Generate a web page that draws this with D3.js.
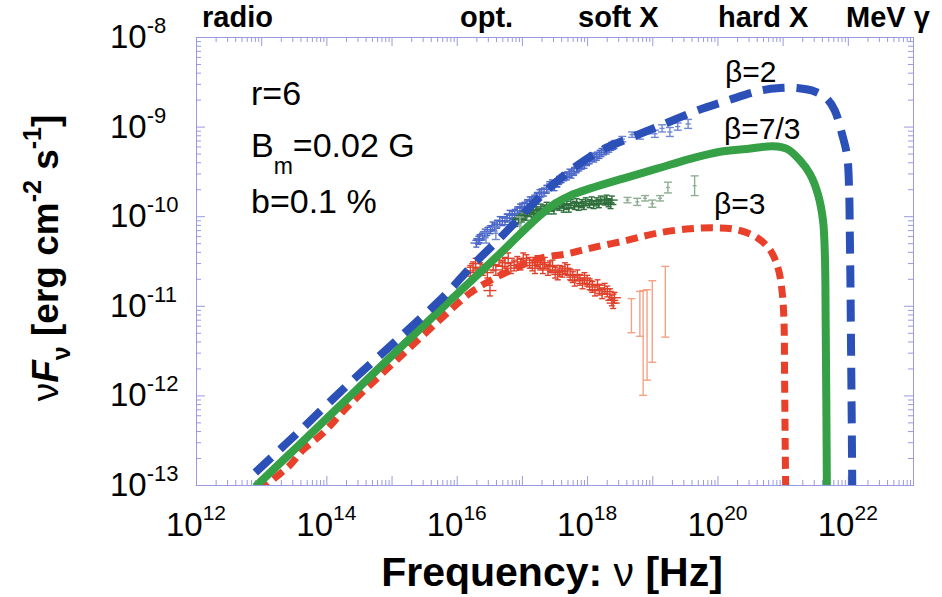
<!DOCTYPE html>
<html>
<head>
<meta charset="utf-8">
<title>SED model</title>
<script src="https://cdn.jsdelivr.net/npm/d3@7/dist/d3.min.js"></script>
<style>
  body { margin: 0; background: #fff; }
  svg { display: block; font-family: "Liberation Sans", Arial, Helvetica, sans-serif; }
</style>
</head>
<body>
<svg id="sed" width="942" height="597"></svg>
<script>
// model spectra: log10(nu [Hz]) and log10(nuFnu [erg cm^-2 s^-1])
var beta2Nu = [12.91, 13.60, 14.36, 15.13, 15.85, 16.20, 16.63, 17.12, 17.43, 17.78, 18.20, 18.61, 19.12, 19.69, 20.15, 20.65, 20.96, 21.22, 21.50, 21.68, 21.80, 21.91, 21.99, 22.02, 22.03, 22.04, 22.05, 22.06, 22.07];
var beta2F  = [-12.86, -12.39, -11.86, -11.35, -10.86, -10.58, -10.27, -9.90, -9.68, -9.47, -9.27, -9.14, -8.99, -8.82, -8.71, -8.60, -8.57, -8.57, -8.61, -8.69, -8.82, -9.08, -9.33, -9.71, -10.16, -10.72, -11.50, -12.28, -13.20];

var beta73Nu = [12.91, 13.60, 14.36, 15.13, 15.90, 16.66, 16.97, 17.28, 17.51, 17.74, 18.05, 18.55, 19.07, 19.58, 20.04, 20.45, 20.85, 21.07, 21.27, 21.42, 21.54, 21.62, 21.65, 21.66, 21.67, 21.68];
var beta73F  = [-13.02, -12.54, -12.01, -11.47, -10.94, -10.42, -10.20, -9.99, -9.86, -9.77, -9.69, -9.58, -9.47, -9.36, -9.28, -9.25, -9.22, -9.25, -9.38, -9.53, -9.75, -10.05, -10.49, -11.16, -12.05, -13.20];

var beta3Nu = [12.98, 13.18, 13.44, 13.64, 13.95, 14.32, 15.13, 15.90, 16.20, 16.51, 16.93, 17.28, 17.69, 18.09, 18.61, 19.07, 19.58, 19.99, 20.30, 20.61, 20.81, 20.93, 20.99, 21.02, 21.03, 21.04, 21.05];
var beta3F  = [-13.08, -12.94, -12.78, -12.61, -12.42, -12.13, -11.57, -11.05, -10.86, -10.72, -10.57, -10.47, -10.42, -10.35, -10.27, -10.19, -10.14, -10.13, -10.15, -10.24, -10.38, -10.58, -10.83, -11.16, -11.83, -12.61, -13.20];

// observed points: [log nu, log nuFnu]
var blueBand = [[16.30,-10.30],[16.33,-10.27],[16.35,-10.25],[16.40,-10.22],[16.43,-10.19],[16.47,-10.17],[16.52,-10.15],[16.55,-10.11],[16.58,-10.12],[16.62,-10.09],[16.66,-10.05],[16.70,-10.06],[16.74,-10.05],[16.77,-10.02],[16.81,-9.98],[16.85,-9.99],[16.89,-9.97],[16.93,-9.94],[16.97,-9.91],[17.00,-9.90],[17.04,-9.89],[17.08,-9.86],[17.12,-9.83],[17.15,-9.83],[17.19,-9.81],[17.23,-9.78],[17.27,-9.75],[17.30,-9.74],[17.34,-9.73],[17.38,-9.70],[17.42,-9.66],[17.46,-9.64],[17.50,-9.67],[17.54,-9.63],[17.57,-9.60],[17.61,-9.58],[17.65,-9.56],[17.69,-9.55],[17.73,-9.52],[17.76,-9.53],[17.80,-9.50],[17.84,-9.47],[17.88,-9.45],[17.92,-9.43],[17.96,-9.42],[18.00,-9.39],[18.04,-9.37],[18.07,-9.34],[18.11,-9.35],[18.15,-9.33],[18.19,-9.31],[18.22,-9.29],[18.26,-9.27],[18.30,-9.26],[18.34,-9.24],[18.37,-9.22],[18.40,-9.21],[18.42,-9.20]];
// [log nu, log nuFnu, error in dex]
var blueSparse = [[16.45,-10.24,0.06],[16.60,-10.19,0.07],[18.54,-9.14,0.03],[18.69,-9.09,0.03],[18.81,-9.10,0.04],[18.94,-9.05,0.03],[19.04,-9.08,0.04],[19.15,-9.02,0.04],[19.27,-9.06,0.05],[19.39,-9.00,0.04],[19.55,-8.97,0.05]];

var greenBand = [[16.90,-10.07],[16.95,-10.04],[17.00,-10.02],[17.03,-9.99],[17.06,-10.00],[17.12,-9.96],[17.15,-9.94],[17.18,-9.97],[17.23,-9.94],[17.26,-9.97],[17.29,-9.91],[17.35,-9.92],[17.38,-9.89],[17.41,-9.93],[17.46,-9.90],[17.49,-9.93],[17.52,-9.87],[17.58,-9.89],[17.61,-9.86],[17.64,-9.91],[17.69,-9.88],[17.72,-9.91],[17.75,-9.86],[17.81,-9.88],[17.84,-9.85],[17.87,-9.89],[17.92,-9.86],[17.95,-9.88],[17.98,-9.84],[18.04,-9.86],[18.07,-9.83],[18.10,-9.87],[18.15,-9.84],[18.18,-9.86],[18.21,-9.82],[18.27,-9.83],[18.30,-9.81],[18.33,-9.85],[18.36,-9.87],[18.38,-9.82]];
var greenSparse = [[16.97,-10.11,0.10],[18.62,-9.82,0.03],[18.77,-9.84,0.04],[18.89,-9.80,0.03],[19.00,-9.86,0.04],[19.12,-9.80,0.03],[19.24,-9.68,0.06],[19.65,-9.66,0.11]];

var redBand = [[16.21,-10.61],[16.25,-10.57],[16.29,-10.53],[16.36,-10.58],[16.40,-10.60],[16.47,-10.63],[16.51,-10.83],[16.56,-10.55],[16.60,-10.60],[16.65,-10.49],[16.70,-10.56],[16.74,-10.52],[16.79,-10.47],[16.83,-10.58],[16.88,-10.55],[16.93,-10.51],[16.98,-10.54],[17.02,-10.47],[17.07,-10.49],[17.12,-10.52],[17.16,-10.55],[17.20,-10.58],[17.24,-10.50],[17.28,-10.54],[17.32,-10.58],[17.35,-10.52],[17.40,-10.60],[17.43,-10.56],[17.47,-10.55],[17.51,-10.63],[17.55,-10.65],[17.58,-10.61],[17.62,-10.62],[17.66,-10.58],[17.70,-10.60],[17.74,-10.65],[17.78,-10.68],[17.81,-10.72],[17.85,-10.66],[17.89,-10.71],[17.93,-10.75],[17.96,-10.69],[18.00,-10.72],[18.04,-10.76],[18.08,-10.79],[18.12,-10.83],[18.16,-10.77],[18.19,-10.82],[18.23,-10.86],[18.27,-10.81],[18.31,-10.84],[18.35,-10.87],[18.38,-10.94],[18.40,-10.97],[18.42,-10.91]];
// [log nu, log low, log high]
var hardXBars = [[18.68,-11.30,-10.92],[18.81,-11.34,-10.84],[18.86,-12.00,-10.83],[18.92,-11.83,-10.82],[19.00,-11.63,-10.72],[19.20,-11.35,-10.56]];

var xLabelExp = [12, 14, 16, 18, 20, 22];
var yLabelExp = [-13, -12, -11, -10, -9, -8];
var bandNames = ["radio", "opt.", "soft X", "hard X", "MeV \u03b3"];
var bandLeft  = [202, 460, 578, 718, 846];

var svg = d3.select('#sed');
var frame = { left: 196, right: 913, top: 37, bottom: 485 };
var frameColor = '#9a9ae2';

var x = d3.scaleLog().domain([1e12, 1e23]).range([frame.left, frame.right]);
var y = d3.scaleLog().domain([1e-13, 1e-8]).range([frame.bottom, frame.top]);
function px(l) { return x(Math.pow(10, l)); }
function py(l) { return y(Math.pow(10, l)); }

// tick values for log axes
function decades(lo, hi) {
  return d3.range(lo, hi + 1).map(function (e) { return Math.pow(10, e); });
}
function minors(lo, hi) {
  var out = [];
  d3.range(lo, hi).forEach(function (e) {
    d3.range(2, 10).forEach(function (m) { out.push(m * Math.pow(10, e)); });
  });
  return out;
}

function ticks(axis, tx, ty) {
  var g = svg.append('g').attr('transform', 'translate(' + tx + ',' + ty + ')').call(axis);
  g.select('.domain').remove();
  g.selectAll('text').remove();
  g.selectAll('line').attr('stroke', frameColor);
}

[[decades(12, 23), 9], [minors(12, 23), 5]].forEach(function (t) {
  ticks(d3.axisBottom(x).tickValues(t[0]).tickSize(-t[1]), 0, frame.bottom);
  ticks(d3.axisTop(x).tickValues(t[0]).tickSize(-t[1]), 0, frame.top);
});
[[decades(-13, -8), 9], [minors(-13, -8), 5]].forEach(function (t) {
  ticks(d3.axisLeft(y).tickValues(t[0]).tickSize(-t[1]), frame.left, 0);
  ticks(d3.axisRight(y).tickValues(t[0]).tickSize(-t[1]), frame.right, 0);
});

svg.append('rect')
  .attr('x', frame.left + 0.5).attr('y', frame.top + 0.5)
  .attr('width', frame.right - frame.left).attr('height', frame.bottom - frame.top)
  .attr('fill', 'none').attr('stroke', frameColor);

// tick labels
svg.append('g').selectAll('text').data(xLabelExp).join('text')
  .attr('x', function (d) { return x(Math.pow(10, d)); })
  .attr('y', 536)
  .attr('text-anchor', 'middle')
  .attr('font-size', 33)
  .each(function (d) {
    var t = d3.select(this);
    t.append('tspan').text('10');
    t.append('tspan').attr('dy', -16).attr('font-size', 21).text(d);
  });

svg.append('g').selectAll('text').data(yLabelExp).join('text')
  .attr('x', 110)
  .attr('y', function (d) { return y(Math.pow(10, d)) + 11; })
  .attr('font-size', 33)
  .each(function (d) {
    var t = d3.select(this);
    t.append('tspan').text('10');
    t.append('tspan').attr('dy', -15).attr('font-size', 22).text(d);
  });

// band names on top
svg.append('g').selectAll('text').data(bandNames).join('text')
  .attr('x', function (d, i) { return bandLeft[i]; })
  .attr('y', 27)
  .attr('font-size', 29)
  .attr('font-weight', 'bold')
  .text(function (d) { return d; });

// axis titles
var xt = svg.append('text')
  .attr('x', 552).attr('y', 586)
  .attr('text-anchor', 'middle')
  .attr('font-size', 41).attr('font-weight', 'bold');
xt.append('tspan').text('Frequency: ');
xt.append('tspan').attr('font-weight', 'normal').text('\u03bd');
xt.append('tspan').text(' [Hz]');

var yt = svg.append('text')
  .attr('transform', 'translate(58,258) rotate(-90)')
  .attr('text-anchor', 'middle')
  .attr('font-size', 37).attr('font-weight', 'bold');
yt.append('tspan').attr('font-weight', 'normal').text('\u03bd');
yt.append('tspan').attr('font-style', 'italic').text('F');
yt.append('tspan').attr('font-size', 25).attr('dy', 12).text('\u03bd');
yt.append('tspan').attr('dy', -12).text(' [erg cm');
yt.append('tspan').attr('font-size', 25).attr('dy', -17).text('-2');
yt.append('tspan').attr('dy', 17).text(' s');
yt.append('tspan').attr('font-size', 25).attr('dy', -17).text('-1');
yt.append('tspan').attr('dy', 17).text(']');

// plot area
svg.append('clipPath').attr('id', 'plotClip').append('rect')
  .attr('x', frame.left).attr('y', frame.top)
  .attr('width', frame.right - frame.left).attr('height', frame.bottom - frame.top);
var plot = svg.append('g').attr('clip-path', 'url(#plotClip)');

function errPoint(g, lnu, lf, dnu, df, color, cap) {
  var cx = px(lnu), cy = py(lf);
  if (dnu > 0) {
    g.append('line').attr('x1', px(lnu - dnu)).attr('x2', px(lnu + dnu))
      .attr('y1', cy).attr('y2', cy).attr('stroke', color);
  }
  var y0 = py(lf - df), y1 = py(lf + df);
  g.append('line').attr('x1', cx).attr('x2', cx).attr('y1', y0).attr('y2', y1).attr('stroke', color);
  [y0, y1].forEach(function (yy) {
    g.append('line').attr('x1', cx - cap).attr('x2', cx + cap).attr('y1', yy).attr('y2', yy).attr('stroke', color);
  });
}

var pts = plot.append('g').attr('stroke-width', 1.4);
blueBand.forEach(function (p) { errPoint(pts, p[0], p[1], 0.09, 0.045, '#4c68c9', 3); });
blueSparse.forEach(function (p) { errPoint(pts, p[0], p[1], 0.04, p[2], '#7088d4', 4); });
greenBand.forEach(function (p) { errPoint(pts, p[0], p[1], 0.09, 0.045, '#2f6f3c', 3); });
greenSparse.forEach(function (p) { errPoint(pts, p[0], p[1], 0.03, p[2], '#8fae94', 4); });
redBand.forEach(function (p) { errPoint(pts, p[0], p[1], 0.10, 0.06, '#e0402a', 3); });
hardXBars.forEach(function (b) {
  errPoint(pts, b[0], (b[1] + b[2]) / 2, 0, (b[2] - b[1]) / 2, '#f4a284', 4);
});

// model curves
function curve(nu, f, color, width, dash) {
  var line = d3.line()
    .x(function (i) { return px(nu[i]); })
    .y(function (i) { return py(f[i]); })
    .curve(d3.curveCatmullRom.alpha(0.5));
  plot.append('path')
    .attr('d', line(d3.range(nu.length)))
    .attr('fill', 'none')
    .attr('stroke', color)
    .attr('stroke-width', width)
    .attr('stroke-dasharray', dash);
}
curve(beta3Nu, beta3F, '#e8402a', 7, '12,7');
curve(beta73Nu, beta73F, '#35a046', 8, null);
curve(beta2Nu, beta2F, '#2b50b8', 8, '22,12');

// annotations
var ann = svg.append('g').attr('font-size', 34);
ann.append('text').attr('x', 251).attr('y', 105).text('r=6');
var bm = ann.append('text').attr('x', 251).attr('y', 157);
bm.append('tspan').text('B');
bm.append('tspan').attr('dy', 17).attr('font-size', 23).text('m');
bm.append('tspan').attr('dy', -17).text('=0.02 G');
ann.append('text').attr('x', 251).attr('y', 213).text('b=0.1 %');

var betas = svg.append('g').attr('font-size', 30);
betas.append('text').attr('x', 725).attr('y', 82).text('\u03b2=2');
betas.append('text').attr('x', 724).attr('y', 139).text('\u03b2=7/3');
betas.append('text').attr('x', 714).attr('y', 214).text('\u03b2=3');
</script>
</body>
</html>
